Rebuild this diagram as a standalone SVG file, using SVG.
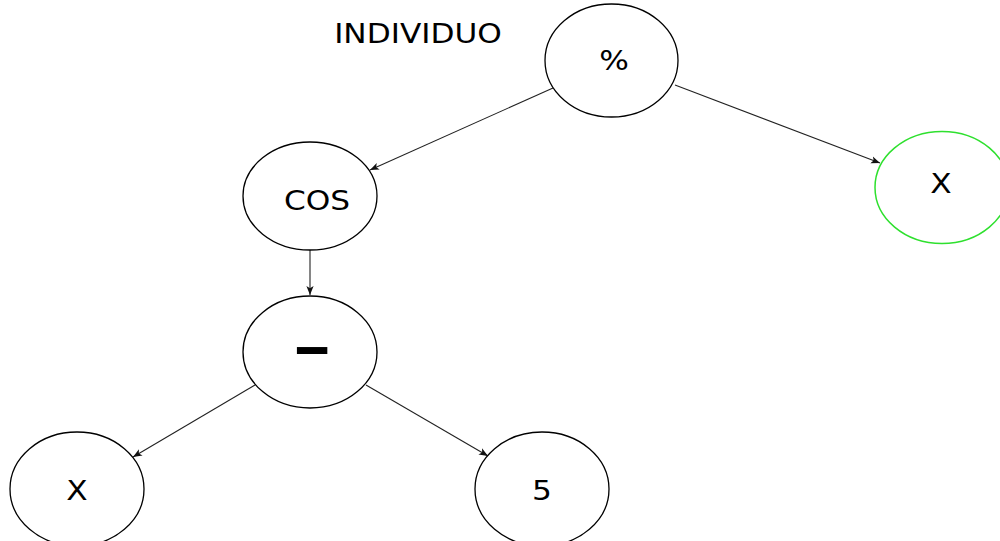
<svg xmlns="http://www.w3.org/2000/svg" width="1000" height="541" viewBox="0 0 1000 541">
<style>
.n{fill:#fff;stroke:#000;stroke-width:1.3}
.g{fill:#fff;stroke:#2ee02e;stroke-width:1.5}
.t{font-family:"DejaVu Sans",sans-serif;font-size:26px;fill:#000;text-anchor:middle}
.m{font-family:"DejaVu Sans",sans-serif;font-size:50px;font-weight:bold;fill:#000;text-anchor:middle}
.e{stroke:#222;stroke-width:1.1;fill:none;marker-end:url(#a)}
</style>
<defs>
<marker id="a" viewBox="0 0 10 10" refX="10" refY="5" markerWidth="9" markerHeight="9" markerUnits="userSpaceOnUse" orient="auto">
<path d="M0,1 L10,5 L0,9 L2.5,5 Z" fill="#111"/>
</marker>
</defs>
<rect width="1000" height="541" fill="#fff"/>
<text class="t" transform="translate(418,43) scale(1.2,1)">INDIVIDUO</text>
<g id="connectors">
<line class="e" x1="553" y1="88" x2="370" y2="170"/>
<line class="e" x1="675" y1="85" x2="880" y2="163"/>
<line class="e" x1="310" y1="250" x2="310" y2="295"/>
<line class="e" x1="255" y1="385" x2="133" y2="457"/>
<line class="e" x1="366" y1="385" x2="488" y2="456"/>
</g>
<g id="node-mod">
<ellipse class="n" cx="611.5" cy="60.5" rx="66.5" ry="56.5"/>
<text class="t" transform="translate(614,70) scale(1.2,1)">%</text>
</g>
<g id="node-cos">
<ellipse class="n" cx="310" cy="196" rx="67" ry="54"/>
<text class="t" transform="translate(317,210) scale(1.2,1)">COS</text>
</g>
<g id="node-xr">
<ellipse class="g" cx="942" cy="187.5" rx="67" ry="56"/>
<text class="t" transform="translate(941,193) scale(1.2,1)">X</text>
</g>
<g id="node-minus">
<ellipse class="n" cx="310" cy="352" rx="67" ry="56"/>
<text class="m" transform="translate(312,366) scale(1.55,1.1)">–</text>
</g>
<g id="node-xl">
<ellipse class="n" cx="77" cy="489" rx="67" ry="57"/>
<text class="t" transform="translate(77,500) scale(1.2,1)">X</text>
</g>
<g id="node-5">
<ellipse class="n" cx="542" cy="489" rx="67" ry="57"/>
<text class="t" transform="translate(542,500) scale(1.2,1)">5</text>
</g>
</svg>
